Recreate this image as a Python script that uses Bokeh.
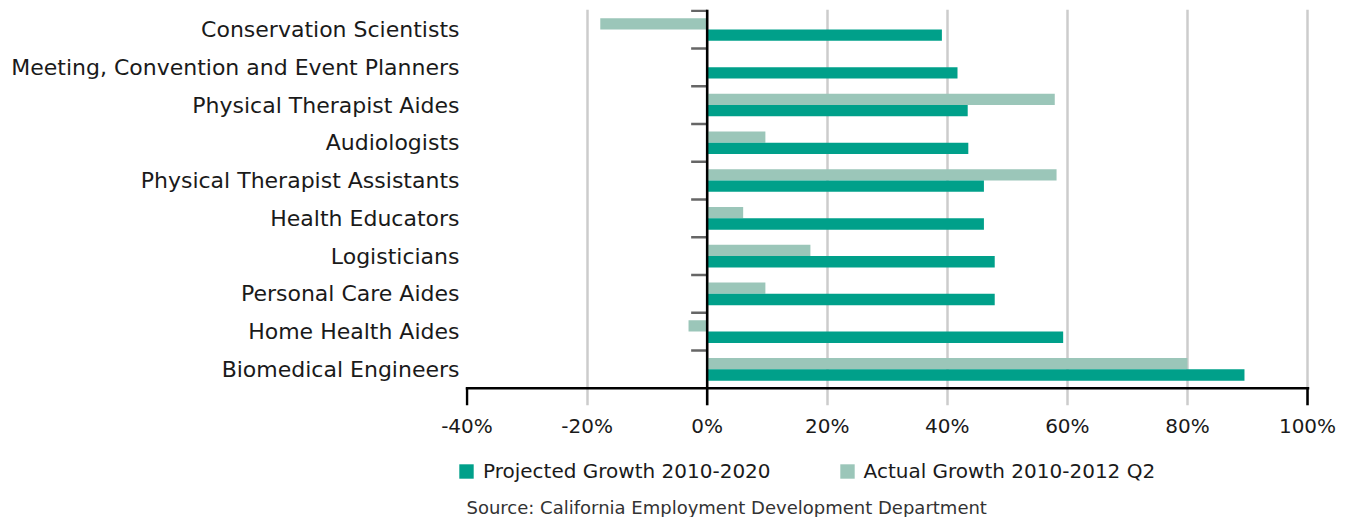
import numpy as np
from bokeh.plotting import figure
from bokeh.layouts import column
from bokeh.models import (ColumnDataSource, Range1d, FixedTicker, PrintfTickFormatter,
                          Span, Legend, LegendItem, Label)
from bokeh.embed import file_html
from bokeh.resources import INLINE

# ---------------- data ----------------
categories = [
    "Conservation Scientists",
    "Meeting, Convention and Event Planners",
    "Physical Therapist Aides",
    "Audiologists",
    "Physical Therapist Assistants",
    "Health Educators",
    "Logisticians",
    "Personal Care Aides",
    "Home Health Aides",
    "Biomedical Engineers",
]
projected = [39.1, 41.7, 43.4, 43.5, 46.1, 46.1, 47.9, 47.9, 59.3, 89.5]
actual = [-17.8, None, 57.9, 9.7, 58.2, 6.0, 17.2, 9.7, -3.1, 80.0]
x_ticks = [-40, -20, 0, 20, 40, 60, 80, 100]
series_names = ["Projected Growth 2010-2020", "Actual Growth 2010-2012 Q2"]
source_note = "Source:  California Employment Development Department"

# ---------------- style ----------------
PROJ_COLOR = "#00A08A"
ACT_COLOR = "#9BC6B9"
FONT = "DejaVu Sans"
TEXT_COLOR = "#1a1a1a"
W = 1354
TOP_H = 440
BOT_H = 77
FRAME_L = 465

n = len(categories)
ypos = [n - 1 - i for i in range(n)]
bar_h = 0.30
src = ColumnDataSource(dict(
    cat=categories,
    y_proj=[v - 0.15 for v in ypos],
    y_act=[v + 0.15 for v in ypos],
    proj=np.array(projected, dtype=float),
    act=np.array([np.nan if a is None else a for a in actual], dtype=float),
))

x_lo, x_hi = x_ticks[0] - 0.25, x_ticks[-1] + 0.33
y_axis_pos = -0.5
y_lo, y_hi = y_axis_pos - 0.458, n - 0.5 + 0.03

p = figure(width=W, height=TOP_H,
           min_border_left=FRAME_L, min_border_right=W - FRAME_L - 844,
           min_border_top=9, min_border_bottom=TOP_H - 9 - 396,
           x_range=Range1d(x_lo, x_hi), y_range=Range1d(y_lo, y_hi),
           output_backend="svg", toolbar_location=None)
p.outline_line_color = None
p.background_fill_color = "white"
p.border_fill_color = "white"

# grid
p.xgrid.ticker = FixedTicker(ticks=[t for t in x_ticks if t != x_ticks[0]])
p.xgrid.grid_line_color = "#cccccc"
p.xgrid.grid_line_width = 2.5
p.ygrid.grid_line_color = None

# bars
r_act = p.hbar(y="y_act", left=0, right="act", height=bar_h, source=src,
               fill_color=ACT_COLOR, line_color=None)
r_proj = p.hbar(y="y_proj", left=0, right="proj", height=bar_h, source=src,
                fill_color=PROJ_COLOR, line_color=None)

# category boundary ticks on the zero axis
bounds = [v + 0.5 for v in ypos]
p.ray(x=[0] * len(bounds), y=bounds, length=16, length_units="screen",
      angle=np.pi, line_color="#666666", line_width=2.5)

# end ticks of the value axis
p.segment(x0=[x_ticks[0], x_ticks[-1]], x1=[x_ticks[0], x_ticks[-1]],
          y0=[y_axis_pos] * 2, y1=[y_lo] * 2, line_color="black", line_width=2.5)

p.add_layout(Span(location=0, dimension="height", line_color="black", line_width=2.5))
p.add_layout(Span(location=y_axis_pos, dimension="width", line_color="black", line_width=2.5))

# x axis
xa = p.xaxis[0]
xa.ticker = FixedTicker(ticks=x_ticks)
xa.formatter = PrintfTickFormatter(format="%d%%")
xa.axis_line_color = None
xa.major_tick_line_color = None
xa.minor_tick_line_color = None
xa.major_tick_out = 0
xa.major_tick_in = 0
xa.major_label_standoff = 8
xa.major_label_text_font = FONT
xa.major_label_text_font_size = "20px"
xa.major_label_text_color = TEXT_COLOR

# y axis
ya = p.yaxis[0]
ya.ticker = FixedTicker(ticks=ypos)
ya.major_label_overrides = {v: c for v, c in zip(ypos, categories)}
ya.axis_line_color = None
ya.major_tick_line_color = None
ya.minor_tick_line_color = None
ya.major_tick_out = 0
ya.major_tick_in = 0
ya.major_label_standoff = 6
ya.major_label_text_font = FONT
ya.major_label_text_font_size = "22px"
ya.major_label_text_color = TEXT_COLOR

# ---------------- legend + source strip ----------------
p2 = figure(width=W, height=BOT_H, x_range=Range1d(0, W), y_range=Range1d(0, BOT_H),
            min_border=0, x_axis_type=None, y_axis_type=None,
            output_backend="svg", toolbar_location=None)
p2.outline_line_color = None
p2.grid.grid_line_color = None
p2.background_fill_color = "white"
p2.border_fill_color = "white"

# x origin of the strip's frame (0 if frames are not aligned with the chart)
x0 = 0
if "frame_align" in p2.properties():
    p.frame_align = False
    p2.frame_align = False
else:
    x0 = FRAME_L
    p2.min_border_left = FRAME_L

key_src = ColumnDataSource(dict(y=np.array([np.nan]), r=np.array([np.nan])))
k_proj = p2.hbar(y="y", right="r", height=1, source=key_src,
                 fill_color=PROJ_COLOR, line_color=None)
k_act = p2.hbar(y="y", right="r", height=1, source=key_src,
                fill_color=ACT_COLOR, line_color=None)

legend = Legend(items=[LegendItem(label=series_names[0], renderers=[k_proj]),
                       LegendItem(label=series_names[1], renderers=[k_act])],
                location=(max(457 - x0, 0), 34), orientation="horizontal",
                glyph_width=18, glyph_height=18, label_standoff=8, spacing=67,
                padding=0, margin=0, border_line_color=None, background_fill_alpha=0,
                label_text_font=FONT, label_text_font_size="20px",
                label_text_color=TEXT_COLOR)
p2.add_layout(legend)

p2.add_layout(Label(x=466 - x0, y=10, x_units="screen", y_units="screen", text=source_note,
                    text_font=FONT, text_font_size="18px", text_color="#333333",
                    text_baseline="middle"))

layout = column(p, p2, spacing=0)
open("out.html", "w").write(file_html(layout, INLINE))
